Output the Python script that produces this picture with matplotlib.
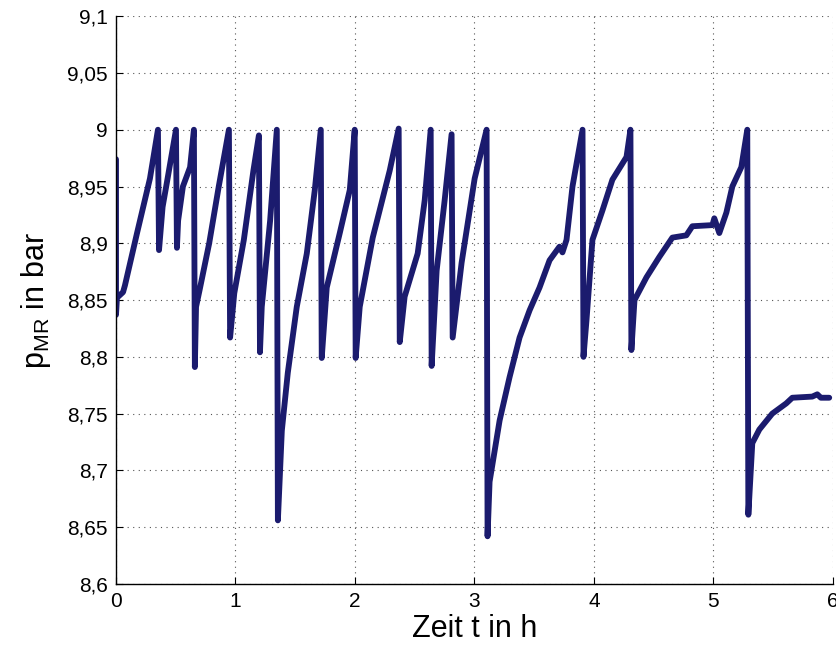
import numpy as np
import matplotlib
matplotlib.use('Agg')
import matplotlib.pyplot as plt
from matplotlib.ticker import FuncFormatter, MultipleLocator

plt.rcParams['font.family'] = ['Liberation Sans', 'DejaVu Sans']

# Zeit in h / Druck im Hauptluftbehaelter in bar
t_h = [0.0, 0.0, 0.008, 0.059, 0.075, 0.176, 0.284, 0.351,
       0.36, 0.39, 0.43, 0.502,
       0.51, 0.52, 0.56, 0.62, 0.652,
       0.66, 0.67, 0.70, 0.78, 0.86, 0.945,
       0.955, 0.99, 1.07, 1.15, 1.196,
       1.205, 1.22, 1.29, 1.346,
       1.355, 1.388, 1.438, 1.513, 1.597, 1.664, 1.714,
       1.722, 1.764, 1.873, 1.957, 1.998,
       2.006, 2.04, 2.149, 2.291, 2.366,
       2.375, 2.416, 2.525, 2.584, 2.634,
       2.642, 2.684, 2.751, 2.809,
       2.818, 2.893, 3.002, 3.102,
       3.11, 3.127, 3.211, 3.294, 3.378, 3.462, 3.545, 3.629, 3.712, 3.737, 3.771, 3.821, 3.905,
       3.913, 3.938, 3.988, 4.072, 4.155, 4.273, 4.306,
       4.314, 4.34, 4.44, 4.548, 4.657, 4.774, 4.824, 4.992, 5.008, 5.05, 5.109, 5.159, 5.234, 5.284,
       5.293, 5.326, 5.385, 5.493, 5.61, 5.661, 5.828, 5.87, 5.9, 5.97]
p_bar = [8.974, 8.837, 8.852, 8.857, 8.863, 8.909, 8.957, 9.0,
         8.894, 8.932, 8.956, 9.0,
         8.896, 8.92, 8.95, 8.967, 9.0,
         8.791, 8.844, 8.859, 8.9, 8.95, 9.0,
         8.817, 8.856, 8.903, 8.964, 8.995,
         8.804, 8.844, 8.92, 9.0,
         8.656, 8.735, 8.786, 8.844, 8.891, 8.947, 9.0,
         8.799, 8.861, 8.909, 8.947, 9.0,
         8.799, 8.844, 8.905, 8.964, 9.001,
         8.813, 8.853, 8.891, 8.938, 9.0,
         8.792, 8.876, 8.938, 8.996,
         8.817, 8.883, 8.957, 9.0,
         8.642, 8.69, 8.744, 8.782, 8.817, 8.841, 8.861, 8.885, 8.897, 8.892, 8.903, 8.95, 9.0,
         8.8, 8.832, 8.903, 8.929, 8.956, 8.976, 9.0,
         8.806, 8.85, 8.87, 8.888, 8.905, 8.907, 8.915, 8.916, 8.922, 8.909, 8.927, 8.95, 8.967, 9.0,
         8.661, 8.724, 8.736, 8.75, 8.759, 8.764, 8.765, 8.767, 8.764, 8.764]

fig = plt.figure(figsize=(8.37, 6.46), dpi=100)
ax = fig.add_axes([0.1386, 0.096, 0.8564, 0.879])

ax.plot(t_h, p_bar, color='#1b1b6e', lw=4.2,
        solid_joinstyle='round', solid_capstyle='round')

ax.set_xlim(0, 6)
ax.set_ylim(8.6, 9.1)
ax.xaxis.set_major_locator(MultipleLocator(1))
ax.yaxis.set_major_locator(MultipleLocator(0.05))


def komma(v, pos):
    s = f'{v:.2f}'.rstrip('0').rstrip('.')
    return s.replace('.', ',')


ax.yaxis.set_major_formatter(FuncFormatter(komma))
ax.xaxis.set_major_formatter(FuncFormatter(komma))

ax.grid(True, linestyle=(0, (1, 4)), color='#555555', lw=0.8)
for s in ['top', 'right']:
    ax.spines[s].set_visible(False)
ax.spines['left'].set_linewidth(1.0)
ax.spines['bottom'].set_linewidth(1.0)
ax.tick_params(direction='in', labelsize=15, length=5, pad=6)

ax.set_xlabel('Zeit t in h', fontsize=22, labelpad=2)
ax.set_ylabel(r'p$_\mathregular{MR}$ in bar', fontsize=22, labelpad=10)

fig.savefig('out.png', dpi=100)
